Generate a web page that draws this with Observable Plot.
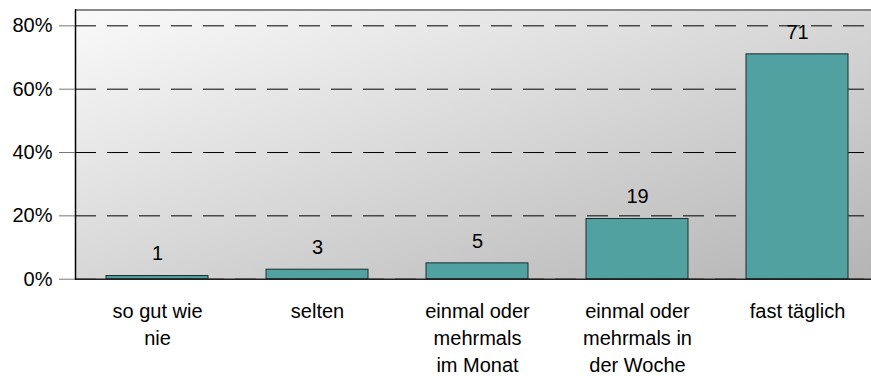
<!DOCTYPE html>
<html>
<head>
<meta charset="utf-8">
<script src="https://cdn.jsdelivr.net/npm/d3@7"></script>
<script src="https://cdn.jsdelivr.net/npm/@observablehq/plot@0.6"></script>
<style>
  html, body { margin: 0; padding: 0; background: #ffffff; }
  #chart svg { display: block; }
</style>
</head>
<body>
<div id="chart"></div>
<script>
const categories = ["so gut wie\nnie", "selten", "einmal oder\nmehrmals\nim Monat", "einmal oder\nmehrmals in\nder Woche", "fast täglich"];
const values = [1, 3, 5, 19, 71];
const yTicks = [0, 20, 40, 60, 80];

const data = categories.map((c, i) => ({cat: c, value: values[i]}));

const chart = Plot.plot({
  width: 871,
  height: 376,
  marginLeft: 75,
  marginRight: 0,
  marginTop: 9.5,
  marginBottom: 97.3,
  style: {fontFamily: "'Liberation Sans', Arial, sans-serif", fontSize: "20px", color: "#000", background: "#fff", overflow: "visible"},
  x: {type: "band", domain: categories, range: [75, 879.5], paddingInner: 0.36, paddingOuter: 0.18, align: 0.5, label: null},
  y: {domain: [0, 85], label: null},
  marks: [
    Plot.frame({fill: "url(#bgGrad)", stroke: null}),
    Plot.gridY(yTicks, {stroke: "#000", strokeOpacity: 1, strokeWidth: 1, strokeDasharray: "21,11"}),
    Plot.ruleY([85], {stroke: "#888", strokeWidth: 2}),
    Plot.barY(data, {x: "cat", y: "value", fill: "#51a1a1", stroke: "#1c2c2c", strokeWidth: 1}),
    Plot.text(data, {x: "cat", y: "value", text: d => String(d.value), dy: -22, fontSize: 20, fill: "#000"}),
    Plot.ruleY([0], {stroke: "#222", strokeWidth: 1.5}),
    Plot.frame({anchor: "left", stroke: "#000", strokeWidth: 1.5}),
    Plot.axisY(yTicks, {tickSize: 16, tickPadding: 7, stroke: "#777", fontSize: 20, fill: "#000", tickFormat: d => d + "%", label: null}),
    Plot.axisX({tickSize: 0, tickPadding: 20, fontSize: 20, lineHeight: 1.35, fill: "#000", label: null})
  ]
});

const svg = d3.select(chart);
const defs = svg.insert("defs", ":first-child");
const g = defs.append("linearGradient").attr("id", "bgGrad")
  .attr("x1", 0).attr("y1", 0).attr("x2", 1).attr("y2", 1);
g.append("stop").attr("offset", "0%").attr("stop-color", "#fafafa");
g.append("stop").attr("offset", "100%").attr("stop-color", "#b4b4b4");

document.getElementById("chart").appendChild(chart);
</script>
</body>
</html>
